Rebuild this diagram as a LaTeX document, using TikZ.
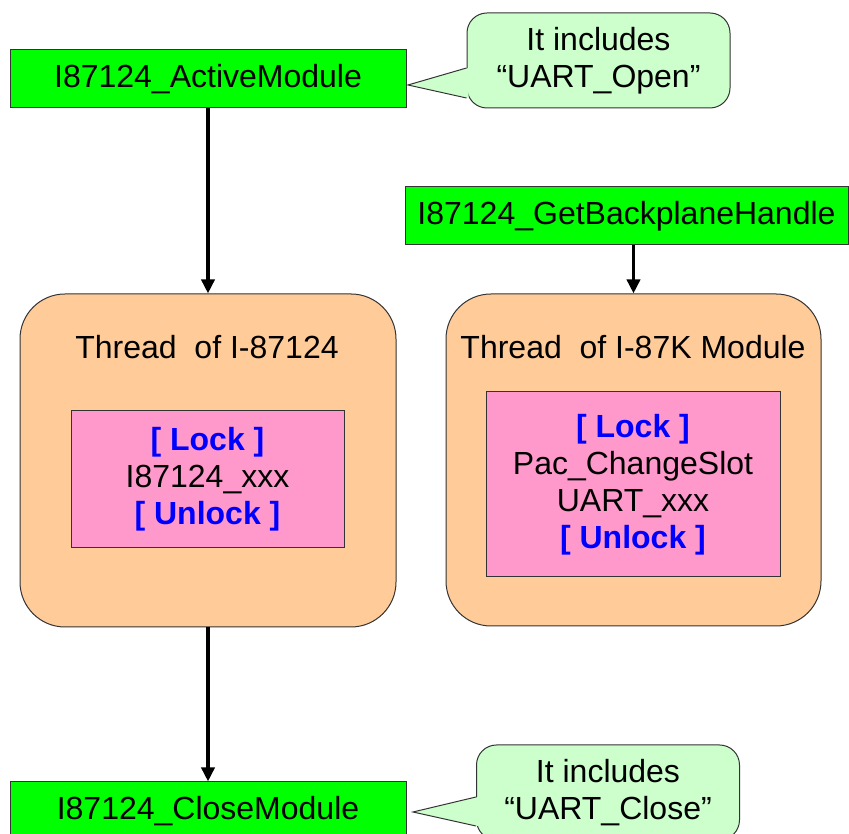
\documentclass[tikz,border=0pt]{standalone}
\usepackage{fontspec}
\setmainfont{Liberation Sans}
\usetikzlibrary{arrows.meta}
\definecolor{boxgreen}{HTML}{00FF00}
\definecolor{callgreen}{HTML}{CCFFCC}
\definecolor{threadorange}{HTML}{FFCC99}
\definecolor{lockpink}{HTML}{FF99CC}
\definecolor{lockblue}{HTML}{0000FF}
\definecolor{edgegray}{HTML}{333333}
\tikzset{
  txt/.style={font=\fontsize{32}{37}\selectfont},
  funcbox/.style={draw=edgegray, line width=1pt, fill=boxgreen, minimum height=58pt, inner sep=0pt, txt},
  callbox/.style={draw=edgegray, line width=1pt, fill=callgreen, rounded corners=20pt, minimum width=263pt, minimum height=95pt, inner sep=0pt, align=center, txt},
  threadbox/.style={draw=edgegray, line width=1pt, fill=threadorange, rounded corners=45pt, inner sep=0pt},
  lockbox/.style={draw=edgegray, line width=1pt, fill=lockpink, inner sep=0pt, align=center, txt},
  flow/.style={line width=3.5pt, -{Triangle[length=14pt,width=13pt]}},
  pointer/.style={draw=edgegray, line width=1pt},
}
\newcommand{\lk}[1]{\textcolor{lockblue}{\textbf{#1}}}
\begin{document}
\begin{tikzpicture}[x=1pt,y=1pt]
\useasboundingbox[fill=white] (0,0) rectangle (849,834);

% top-left function and callout
\node[funcbox, minimum width=396pt] (active) at (208,755) {I87124\_ActiveModule};
\node[callbox] (c1) at (598.5,773.5) {It includes\\“UART\_Open”};
\coordinate (tip1) at (408,749);
\fill[callgreen] ([xshift=2pt,yshift=-7.5pt]c1.west) -- (tip1) -- ([xshift=2pt,yshift=-37.5pt]c1.west) -- cycle;
\draw[pointer] ([yshift=-7.5pt]c1.west) -- (tip1) -- ([yshift=-37.5pt]c1.west);

% right function
\node[funcbox, minimum width=443pt] (backplane) at (626.5,618) {I87124\_GetBackplaneHandle};

% threads
\node[threadbox, minimum width=376pt, minimum height=333pt] (t1) at (208,373.5) {};
\node[txt, anchor=base] (t1title) at (207,475) {Thread\ \ of I-87124};
\node[lockbox, minimum width=273pt, minimum height=137pt] (p1) at (207.5,354.5)
  {\lk{[ Lock ]}\\I87124\_xxx\\\lk{[ Unlock ]}};

\node[threadbox, minimum width=375pt, minimum height=332pt] (t2) at (633.5,374) {};
\node[txt, anchor=base] (t2title) at (633,475) {Thread\ \ of I-87K Module};
\node[lockbox, minimum width=294pt, minimum height=185pt] (p2) at (633,349.5)
  {\lk{[ Lock ]}\\Pac\_ChangeSlot\\UART\_xxx\\\lk{[ Unlock ]}};

% bottom function and callout
\node[funcbox, minimum width=396pt] (close) at (208,23) {I87124\_CloseModule};
\node[callbox] (c2) at (608,41.5) {It includes\\“UART\_Close”};
\coordinate (tip2) at (413,22);
\fill[callgreen] ([xshift=2pt,yshift=-4.5pt]c2.west) -- (tip2) -- ([xshift=2pt,yshift=-33.5pt]c2.west) -- cycle;
\draw[pointer] ([yshift=-4.5pt]c2.west) -- (tip2) -- ([yshift=-33.5pt]c2.west);

% flow arrows
\draw[flow] (active.south) -- (t1.north);
\draw[flow] (t2.north |- backplane.south) -- (t2.north);
\draw[flow] (t1.south) -- (close.north);
\end{tikzpicture}
\end{document}
